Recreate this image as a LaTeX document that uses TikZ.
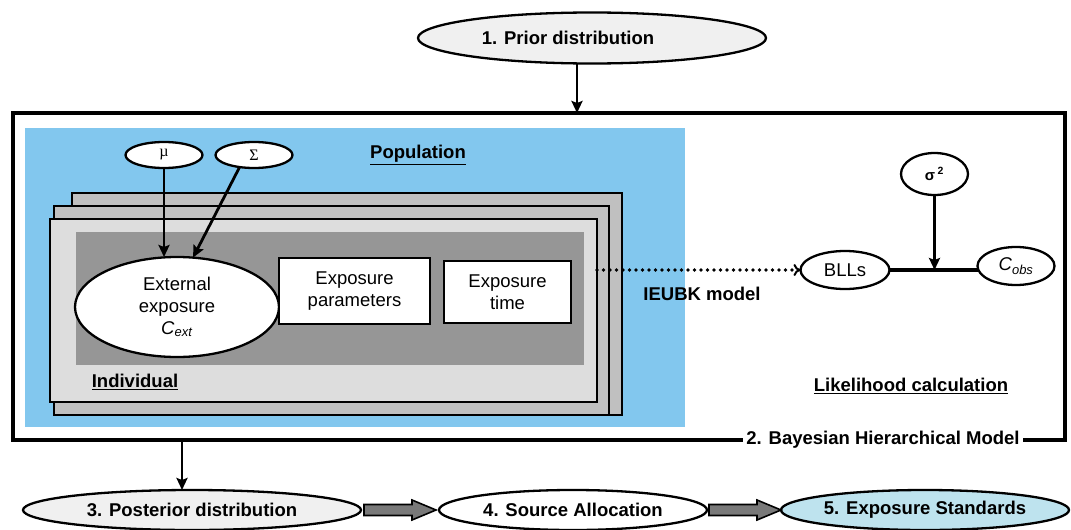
\documentclass[tikz,border=0pt]{standalone}
\usepackage{fontspec}
\setmainfont{Liberation Sans}
\newfontfamily\symfont{Liberation Serif}
\usetikzlibrary{shapes.geometric,arrows.meta,calc}

\definecolor{popblue}{RGB}{130,199,238}
\definecolor{plategray}{RGB}{192,192,192}
\definecolor{frontgray}{RGB}{221,221,221}
\definecolor{innergray}{RGB}{150,150,150}
\definecolor{priorfill}{RGB}{240,240,240}
\definecolor{stdblue}{RGB}{190,227,238}

\tikzset{
  every node/.style={font=\fontsize{18.5}{22}\selectfont, inner sep=0pt, outer sep=0pt},
  oval/.style={ellipse, draw, line width=2.3pt, fill=white},
  plate/.style={rectangle, draw, line width=2.3pt, anchor=north west},
  whitebox/.style={rectangle, draw, line width=2.3pt, fill=white, align=center},
  arr/.style={line width=2.8pt, -{Stealth[length=12pt,width=11pt,inset=2pt]}},
  fatarrow/.style={draw, line width=1.6pt, fill=gray!95!black, line join=miter},
  boldlabel/.style={font=\fontsize{18.5}{22}\selectfont\bfseries},
}

\begin{document}
\begin{tikzpicture}[x=1pt,y=-1pt]
\useasboundingbox (0,0) rectangle (1071,530);

% prior
\node[oval, fill=priorfill, minimum width=348pt, minimum height=51pt] (prior) at (592,38) {};
\node[boldlabel] (priortext) at (568,38) {1. Prior distribution};

% Bayesian hierarchical model frame
\node[plate, line width=3.4pt, minimum width=1052pt, minimum height=327pt] (bhm) at (13,113) {};

% population plate
\node[plate, draw=none, fill=popblue, minimum width=660pt, minimum height=299pt] (pop) at (25,128) {};
\node[boldlabel] (poplabel) at (418,155) {\underline{Population}};
\node[oval, minimum width=77pt, minimum height=26pt] (mu) at (164,155) {\symfont\fontsize{16}{18}\selectfont µ};
\node[oval, minimum width=77pt, minimum height=26pt] (sigma) at (254,155) {\symfont\fontsize{16}{18}\selectfont Σ};

% stacked individual plates
\node[plate, fill=plategray, minimum width=550pt, minimum height=222pt] (plateC) at (72,193) {};
\node[plate, fill=plategray, minimum width=555pt, minimum height=209pt] (plateB) at (54,206) {};
\node[plate, fill=frontgray, minimum width=547pt, minimum height=183pt] (indiv) at (50,219) {};
\node[plate, draw=none, fill=innergray, minimum width=508pt, minimum height=133pt] (inner) at (76,232) {};
\node[boldlabel] (indivlabel) at (135,382) {\underline{Individual}};

\node[oval, minimum width=204pt, minimum height=100pt, align=center] (ext) at (177,307)
  {External\\exposure\\\textit{C}\textsubscript{\textit{ext}}};
\node[whitebox, minimum width=151pt, minimum height=66pt] (par) at (354.5,291) {Exposure\\parameters};
\node[whitebox, minimum width=127pt, minimum height=62pt] (etime) at (507.5,292) {Exposure\\time};

% likelihood part
\node[oval, minimum width=89pt, minimum height=38pt] (bll) at (845,270) {BLLs};
\node[oval, minimum width=77pt, minimum height=38pt] (cobs) at (1016,266) {\textit{C}\textsubscript{\textit{obs}}};
\node[oval, minimum width=67pt, minimum height=42pt] (s2) at (934.5,174)
  {\fontsize{15}{18}\selectfont\bfseries σ\,\textsuperscript{2}};
\node[boldlabel] (ieubk) at (702,294) {IEUBK model};
\node[boldlabel] (lik) at (911,386) {\underline{Likelihood calculation}};

% frame title on the bottom edge
\node[boldlabel, fill=white, inner xsep=3pt, inner ysep=3pt] (bhmlabel) at (883,440) {2. Bayesian Hierarchical Model};

% downstream steps
\node[oval, fill=priorfill, minimum width=338pt, minimum height=40pt] (post) at (192,510) {};
\node[boldlabel] at (post.center) {3. Posterior distribution};
\node[oval, minimum width=268pt, minimum height=40pt] (src) at (573,510) {};
\node[boldlabel] at (src.center) {4. Source Allocation};
\node[oval, fill=stdblue, minimum width=288pt, minimum height=40pt] (std) at (925,510) {};
\node[boldlabel] at (std.center) {5. Exposure Standards};

% connectors
\draw[arr] ([xshift=-15pt]prior.south) -- ([xshift=-15pt]prior.south |- bhm.north);
\draw[arr] (mu.south) -- (mu.south |- ext.north);
\draw[arr] (sigma.220) -- (ext.72);
\draw[line width=3.6pt, line cap=round, dash pattern=on 0pt off 6.5pt,
      -{To[length=7pt,width=12pt,line width=2pt]}] (indiv.east |- bll.west) -- (bll.west);
\draw[line width=3.5pt] (bll.east) -- (bll.east -| cobs.west);
\draw[arr] (s2.south) -- (s2.south |- bll.east);
\draw[arr] ([xshift=-10pt]post.north |- bhm.south) -- ([xshift=-10pt]post.north);

\coordinate (fa1) at ($(post.east)+(3,0)$);
\draw[fatarrow] (fa1) ++(0,-5.5) -- ++(48,0) -- ++(0,-4.5) -- ++(24,10) -- ++(-24,10) -- ++(0,-4.5) -- ++(-48,0) -- cycle;
\coordinate (fa2) at ($(src.east)+(2,0)$);
\draw[fatarrow] (fa2) ++(0,-5.5) -- ++(48,0) -- ++(0,-4.5) -- ++(24,10) -- ++(-24,10) -- ++(0,-4.5) -- ++(-48,0) -- cycle;
\end{tikzpicture}
\end{document}
